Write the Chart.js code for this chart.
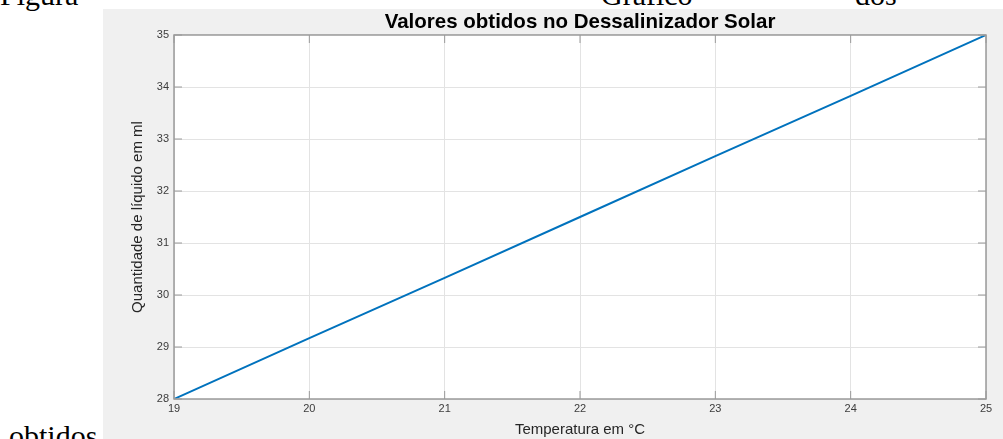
<!DOCTYPE html>
<html>
<head>
<meta charset="utf-8">
<script src="https://cdn.jsdelivr.net/npm/chart.js@4"></script>
<style>
    html, body { margin: 0; padding: 0; background: #fff; overflow: hidden; }
    body { width: 1003px; height: 439px; position: relative; }
    .doc { position: absolute; font-family: "Liberation Serif", "Times New Roman", serif; font-size: 30px; line-height: 1; color: #000; white-space: nowrap; }
    #figPanel { position: absolute; left: 103px; top: 9px; width: 900px; height: 430px; background: #f0f0f0; }
</style>
</head>
<body>
<span class="doc" style="left:0px; top:-20px;">Figura</span>
<span class="doc" style="left:601px; top:-20px;">Gráfico</span>
<span class="doc" style="left:855px; top:-20px;">dos</span>
<span class="doc" style="left:9px; top:421px;">obtidos</span>
<div id="figPanel"><canvas id="chartCanvas" width="900" height="430"></canvas></div>
<script>
// dados
const temperaturas = [19, 20, 21, 22, 23, 24, 25];
const quantidadeMl = [28, 29.17, 30.33, 31.5, 32.67, 33.83, 35];
const xTicks = [19, 20, 21, 22, 23, 24, 25];
const yTicks = [28, 29, 30, 31, 32, 33, 34, 35];

const axisColor = '#9a9a9a';
const textColor = '#3c3c3c';
const sans = 'Arial, "Liberation Sans", sans-serif';

// fundo branco + caixa do eixo com marcas para dentro (estilo MATLAB)
const matlabBox = {
    id: 'matlabBox',
    beforeDraw(chart) {
        const {ctx, chartArea: a} = chart;
        ctx.save();
        ctx.fillStyle = '#fff';
        ctx.fillRect(a.left, a.top, a.right - a.left, a.bottom - a.top);
        ctx.restore();
    },
    afterDatasetsDraw(chart) {
        const {ctx, chartArea: a, scales} = chart;
        ctx.save();
        ctx.strokeStyle = axisColor;
        ctx.lineWidth = 1.5;
        ctx.strokeRect(a.left, a.top, a.right - a.left, a.bottom - a.top);
        ctx.lineWidth = 1;
        const len = 8;
        ctx.beginPath();
        xTicks.forEach(v => {
            const px = scales.x.getPixelForValue(v);
            ctx.moveTo(px, a.bottom); ctx.lineTo(px, a.bottom - len);
            ctx.moveTo(px, a.top); ctx.lineTo(px, a.top + len);
        });
        yTicks.forEach(v => {
            const py = scales.y.getPixelForValue(v);
            ctx.moveTo(a.left, py); ctx.lineTo(a.left + len, py);
            ctx.moveTo(a.right, py); ctx.lineTo(a.right - len, py);
        });
        ctx.stroke();
        ctx.restore();
    }
};

new Chart(document.getElementById('chartCanvas'), {
    type: 'line',
    data: {
        datasets: [{
            data: temperaturas.map((t, i) => ({x: t, y: quantidadeMl[i]})),
            borderColor: '#0072bd',
            borderWidth: 2,
            pointRadius: 0,
            fill: false,
            tension: 0
        }]
    },
    options: {
        responsive: false,
        animation: false,
        layout: { padding: { left: 0, right: 17, top: 0, bottom: 0 } },
        plugins: {
            legend: { display: false },
            tooltip: { enabled: false },
            title: {
                display: true,
                fullSize: false,
                text: 'Valores obtidos no Dessalinizador Solar',
                color: '#000',
                font: { family: sans, size: 20.5, weight: 'bold', lineHeight: 1.2 },
                padding: { top: 1, bottom: 0.4 }
            }
        },
        scales: {
            x: {
                type: 'linear',
                min: 19,
                max: 25,
                afterBuildTicks: s => { s.ticks = xTicks.map(v => ({value: v})); },
                afterFit: s => { s.height = 40; },
                ticks: { color: textColor, padding: 3, maxRotation: 0, font: { family: sans, size: 11 } },
                grid: { color: '#e3e3e3', lineWidth: 1, drawTicks: false },
                border: { display: false },
                title: {
                    display: true,
                    text: 'Temperatura em °C',
                    color: '#262626',
                    font: { family: sans, size: 15, lineHeight: 1.2 },
                    padding: { top: 2, bottom: 0 }
                }
            },
            y: {
                type: 'linear',
                min: 28,
                max: 35,
                afterBuildTicks: s => { s.ticks = yTicks.map(v => ({value: v})); },
                afterFit: s => { s.width = 71; },
                ticks: { color: textColor, padding: 5, font: { family: sans, size: 11 } },
                grid: { color: '#e3e3e3', lineWidth: 1, drawTicks: false },
                border: { display: false },
                title: {
                    display: true,
                    text: 'Quantidade de líquido em ml',
                    color: '#262626',
                    font: { family: sans, size: 15, lineHeight: 1.2 },
                    padding: { top: 26, bottom: 0 }
                }
            }
        }
    },
    plugins: [matlabBox]
});
</script>
</body>
</html>
